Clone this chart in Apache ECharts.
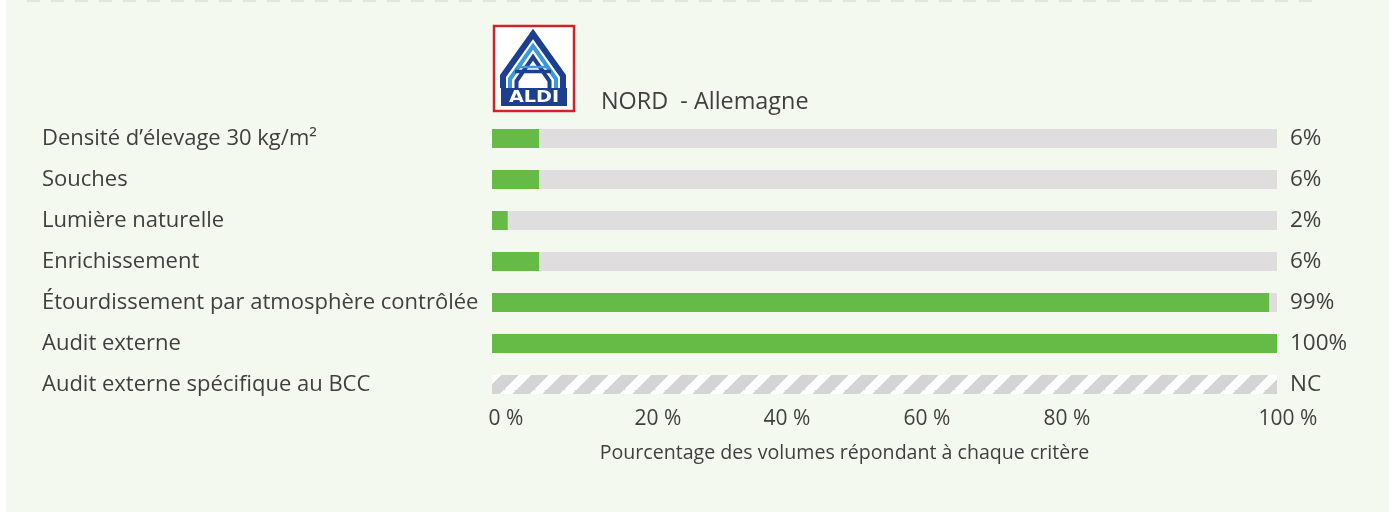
<!DOCTYPE html>
<html>
<head>
<meta charset="utf-8">
<script src="https://cdn.jsdelivr.net/npm/echarts@6/dist/echarts.min.js"></script>
<style>
html,body{margin:0;padding:0;background:#ffffff;}
#c{width:1389px;height:512px;}
</style>
</head>
<body>
<div id="c"></div>
<script>
const categories = [
  "Densité d’élevage 30 kg/m²",
  "Souches",
  "Lumière naturelle",
  "Enrichissement",
  "Étourdissement par atmosphère contrôlée",
  "Audit externe",
  "Audit externe spécifique au BCC"
];
const values = [6, 6, 2, 6, 99, 100, null];
const valueLabels = ["6%", "6%", "2%", "6%", "99%", "100%", "NC"];
const tickValues = [0, 20, 40, 60, 80, 100];
const titleText = "NORD  - Allemagne";
const axisTitle = "Pourcentage des volumes répondant à chaque critère";

const FONT = "'Open Sans', 'Noto Sans', sans-serif";
const TXT = "#3f3f3f";

// hatched pattern for "NC"
const pc = document.createElement('canvas');
pc.width = 30; pc.height = 30;
const px = pc.getContext('2d');
px.fillStyle = '#d4d4d4';
px.fillRect(0, 0, 30, 30);
px.strokeStyle = '#ffffff';
px.lineWidth = 9;
for (let k = -1; k <= 1; k++) {
  px.beginPath();
  px.moveTo(k * 30 - 2, 32);
  px.lineTo(k * 30 + 32, -2);
  px.stroke();
}

const chart = echarts.init(document.getElementById('c'), null, {renderer: 'canvas'});

const bgData = categories.map((c, i) => {
  const item = {value: 100};
  if (values[i] === null) item.itemStyle = {color: {image: pc, repeat: 'repeat'}};
  return item;
});

// per-label horizontal offsets (px) to follow the reference tick text placement
const tickShift = {0: 14, 20: 9, 40: -19, 60: -36, 80: -53, 100: 11};
const rich = {};
tickValues.forEach(v => {
  const d = tickShift[v] || 0;
  rich['p' + v] = {
    fontFamily: FONT, fontSize: 21, color: TXT,
    padding: d >= 0 ? [0, 0, 0, 2 * d] : [0, -2 * d, 0, 0]
  };
});

const DB = '#1d3f8f', LB = '#3c9ad8';

chart.setOption({
  backgroundColor: '#ffffff',
  animation: false,
  title: {
    text: titleText,
    left: 596, top: 86,
    textStyle: {fontFamily: FONT, fontSize: 23.4, fontWeight: 'normal', color: TXT}
  },
  graphic: [
    {type: 'rect', z: -10, silent: true, shape: {x: 6, y: 0, width: 1383, height: 512}, style: {fill: '#f4f9f0'}},
    {type: 'line', z: -5, silent: true, shape: {x1: 27, y1: 1, x2: 1320, y2: 1}, style: {stroke: '#e0e5df', lineWidth: 2, lineDash: [13, 11]}},
    // ALDI logo (drawn)
    {type: 'rect', shape: {x: 494, y: 26, width: 80, height: 85}, style: {fill: '#ffffff', stroke: '#d2232a', lineWidth: 2.5}},
    {type: 'polyline', shape: {points: [[503, 88], [503, 76], [533, 34], [563, 76], [563, 88]]}, style: {stroke: DB, lineWidth: 6, fill: null, lineJoin: 'miter'}},
    {type: 'polyline', shape: {points: [[510, 88], [510, 79], [533, 46], [556, 79], [556, 88]]}, style: {stroke: LB, lineWidth: 4, fill: null, lineJoin: 'miter'}},
    {type: 'polyline', shape: {points: [[516.5, 88], [516.5, 81], [533, 57], [549.5, 81], [549.5, 88]]}, style: {stroke: DB, lineWidth: 4, fill: null, lineJoin: 'miter'}},
    {type: 'polyline', shape: {points: [[515, 71.5], [551, 71.5]]}, style: {stroke: DB, lineWidth: 3.5, fill: null}},
    {type: 'polyline', shape: {points: [[519, 67], [547, 67]]}, style: {stroke: LB, lineWidth: 2.5, fill: null}},
    {type: 'rect', shape: {x: 501, y: 88, width: 66, height: 18}, style: {fill: DB}},
    {type: 'text', x: 534, y: 97.5, scaleX: 1.2, style: {x: 0, y: 0, text: 'ALDI', fill: '#ffffff', font: '900 16px "DejaVu Sans", sans-serif', align: 'center', verticalAlign: 'middle'}}
  ],
  grid: {left: 492, right: 112, top: 118, bottom: 107, containLabel: false},
  xAxis: {
    type: 'value',
    min: 0, max: 100, interval: 20,
    axisLine: {show: false}, axisTick: {show: false}, splitLine: {show: false},
    axisLabel: {
      margin: 4,
      formatter: v => '{p' + v + '|' + v + ' %}',
      rich: rich,
      fontFamily: FONT, fontSize: 21, color: TXT
    },
    name: axisTitle,
    nameLocation: 'middle',
    nameGap: 38,
    nameTextStyle: {fontFamily: FONT, fontSize: 19.6, color: TXT, padding: [0, 80, 0, 0]}
  },
  yAxis: {
    type: 'category',
    data: categories,
    inverse: true,
    axisLine: {show: false}, axisTick: {show: false}, splitLine: {show: false},
    axisLabel: {
      align: 'left', margin: 450,
      fontFamily: FONT, fontSize: 22, color: TXT
    }
  },
  series: [
    {
      type: 'bar',
      data: bgData,
      barWidth: 19,
      barGap: '-100%',
      itemStyle: {color: '#dfdddd'},
      silent: true,
      label: {
        show: true, position: 'right', distance: 13,
        formatter: p => valueLabels[p.dataIndex],
        fontFamily: FONT, fontSize: 22.5, color: TXT
      },
      z: 1
    },
    {
      type: 'bar',
      data: values,
      barWidth: 19,
      barGap: '-100%',
      itemStyle: {color: '#66bb47'},
      silent: true,
      z: 2
    }
  ]
});
</script>
</body>
</html>
